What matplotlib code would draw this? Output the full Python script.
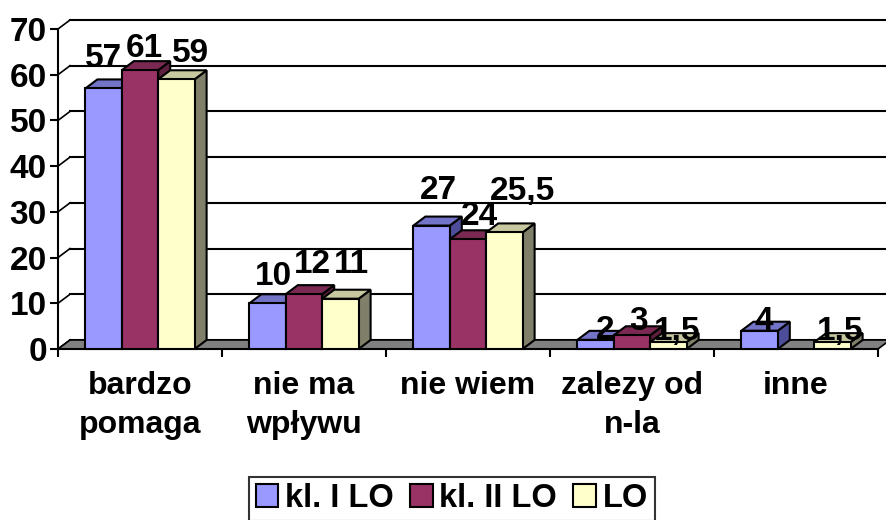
import numpy as np
import matplotlib
matplotlib.use("Agg")
import matplotlib.pyplot as plt
from matplotlib.patches import Polygon, Patch

plt.rcParams['font.family'] = ['Liberation Sans', 'DejaVu Sans']
plt.rcParams['font.weight'] = 'bold'

categories = ['bardzo\npomaga', 'nie ma\nwpływu', 'nie wiem', 'zalezy od\nn-la', 'inne']
series_names = ['kl. I LO', 'kl. II LO', 'LO']
kl1 = [57, 10, 27, 2, 4]
kl2 = [61, 12, 24, 3, np.nan]
lo = [59, 11, 25.5, 1.5, 1.5]
yticks = [0, 10, 20, 30, 40, 50, 60, 70]

# front, top, side colours for each series
colors = [
    ('#9999FF', '#7373C8', '#4D4D99'),
    ('#993366', '#7A2952', '#5C1F3D'),
    ('#FFFFCC', '#C8C8A0', '#80806A'),
]

# label placement (pixels from the bar's front top centre), like Excel placed them
label_nudge = [
    [(0, 21), (4, 13), (14, 17)],
    [(6, 18), (8, 21), (11, 26)],
    [(7, 27), (11, 14), (18, 32)],
    [(10, 1), (7, 5), (9, 2)],
    [(4, 1), (0, 0), (8, 2)],
]

fig = plt.figure(figsize=(8.86, 5.2), dpi=100)
ax = fig.add_axes([58 / 886, 1 - 349 / 520, 820 / 886, 320 / 520])
ax.set_xlim(0, 5)
ax.set_ylim(0, 70)

# depth offset of the 3d look, in data units
dx = 12 / 164
dy = 9 / (320 / 70)

# back wall grid lines + diagonals on the left wall
for y in yticks:
    ax.plot([dx, 5 + dx], [y + dy, y + dy], color='black', lw=1.5, zorder=1, clip_on=False)
    ax.plot([0, dx], [y, y + dy], color='black', lw=1.2, zorder=1, clip_on=False)

# floor
floor = Polygon([(0, 0), (5, 0), (5 + dx, dy), (dx, dy)], closed=True,
                facecolor='#808080', edgecolor='black', lw=1.2, zorder=2, clip_on=False)
ax.add_patch(floor)

w = 0.222
z = 3
for i in range(len(categories)):
    for j, vals in enumerate([kl1, kl2, lo]):
        v = vals[i]
        if np.isnan(v):
            continue
        x0 = i + 0.5 - 1.5 * w + j * w
        front, top, side = colors[j]
        ax.add_patch(Polygon([(x0, 0), (x0 + w, 0), (x0 + w, v), (x0, v)],
                             facecolor=front, edgecolor='black', lw=1.5, zorder=z + 0.2, clip_on=False))
        ax.add_patch(Polygon([(x0, v), (x0 + w, v), (x0 + w + dx, v + dy), (x0 + dx, v + dy)],
                             facecolor=top, edgecolor='black', lw=1.5, zorder=z + 0.1, clip_on=False))
        ax.add_patch(Polygon([(x0 + w, 0), (x0 + w + dx, dy), (x0 + w + dx, v + dy), (x0 + w, v)],
                             facecolor=side, edgecolor='black', lw=1.5, zorder=z, clip_on=False))
        z += 1
        label = f"{v:g}".replace('.', ',')
        ax.annotate(label, (x0 + w / 2, v), xytext=label_nudge[i][j], textcoords='offset pixels',
                    ha='center', va='baseline', fontsize=24, fontweight='bold', zorder=100)

for s in ['top', 'right']:
    ax.spines[s].set_visible(False)
ax.spines['left'].set_linewidth(1.5)
ax.spines['bottom'].set_linewidth(1.5)
ax.spines['bottom'].set_zorder(2.5)

ax.set_yticks(yticks)
ax.set_yticklabels([str(t) for t in yticks], fontsize=24, fontweight='bold')
ax.tick_params(axis='y', length=6, width=1.5, pad=2)

ax.set_xticks(np.arange(0, 6))
ax.set_xticklabels([])
ax.set_xticks(np.arange(len(categories)) + 0.5, minor=True)
ax.set_xticklabels(categories, minor=True, fontsize=23, fontweight='bold', linespacing=1.38)
ax.tick_params(axis='x', which='major', length=6, width=1.5)
ax.tick_params(axis='x', which='minor', length=0, pad=16)

handles = [Patch(facecolor=c[0], edgecolor='black', lw=1.5) for c in colors]
leg = fig.legend(handles, series_names, loc='lower center', bbox_to_anchor=(0.51, -0.02), ncol=3,
                 prop={'size': 23.5, 'weight': 'bold'}, handlelength=0.7, handleheight=0.7,
                 handletextpad=0.2, columnspacing=0.5, borderpad=0.2, borderaxespad=0.3,
                 fancybox=False, frameon=True)
leg.get_frame().set_edgecolor('black')
leg.get_frame().set_linewidth(1.5)

fig.savefig('out.png', dpi=100)
